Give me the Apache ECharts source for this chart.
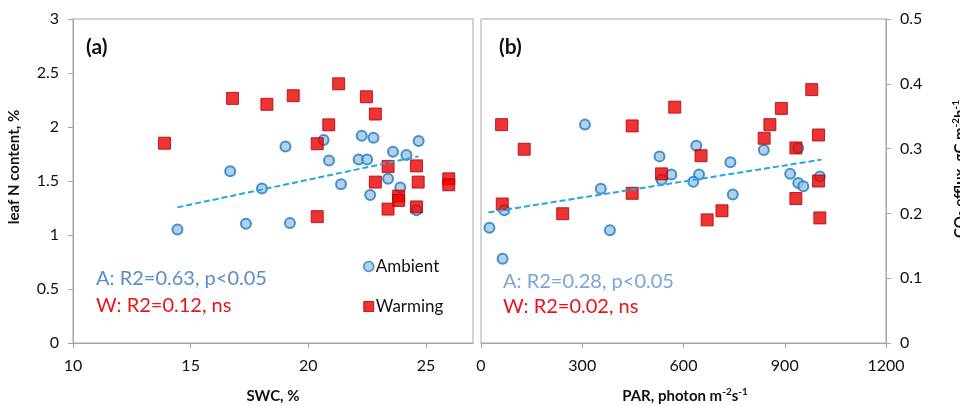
<!DOCTYPE html>
<html>
<head>
<meta charset="utf-8">
<script src="https://cdn.jsdelivr.net/npm/echarts@6/dist/echarts.min.js"></script>
<style>html,body{margin:0;padding:0;background:#fff}#c{width:960px;height:406px}</style>
</head>
<body>
<div id="c"></div>
<script>
// ---- Panel (a): leaf N content vs SWC ----
const swcAmbient   = [20.65,19.03,22.27,22.77,24.69,16.68,20.88,22.14,22.5,23.6,24.17,18.03,23.39,23.91,21.39,22.63,14.44,17.35,19.22,24.6];
const leafNAmbient = [1.88,1.82,1.92,1.90,1.87,1.59,1.69,1.70,1.70,1.77,1.74,1.43,1.52,1.44,1.47,1.37,1.05,1.105,1.11,1.23];
const swcWarming   = [13.89,16.78,18.24,19.36,21.29,22.47,22.85,20.87,20.38,23.39,24.60,22.85,24.67,25.97,25.97,23.84,23.84,23.39,24.6,20.38];
const leafNWarming = [1.85,2.265,2.21,2.29,2.40,2.28,2.12,2.02,1.845,1.635,1.64,1.49,1.49,1.52,1.465,1.36,1.32,1.24,1.26,1.17];
const trendA_swc   = [14.44,24.69];
const trendA_leafN = [1.256,1.728];
// ---- Panel (b): CO2 efflux vs PAR ----
const parAmbient   = [308,529,638,739,838,940,564,535,646,629,916,940,955,1004,355,746,25,69,64,382];
const co2Ambient   = [0.337,0.288,0.3045,0.279,0.298,0.301,0.260,0.252,0.260,0.249,0.261,0.247,0.242,0.257,0.238,0.229,0.178,0.205,0.130,0.174];
const parWarming   = [61,128,448,574,652,535,839,856,890,980,1000,933,1000,448,63,242,670,714,933,1004];
const co2Warming   = [0.337,0.299,0.335,0.364,0.289,0.261,0.316,0.337,0.362,0.391,0.321,0.301,0.250,0.231,0.2145,0.1995,0.190,0.204,0.223,0.193];
const trendB_par   = [22,1009];
const trendB_co2   = [0.2016,0.283];
// ---- axis ticks ----
const swcTicks = [10,15,20,25];
const leafNTicks = [0,0.5,1,1.5,2,2.5,3];
const parTicks = [0,300,600,900,1200];
const co2Ticks = [0,0.1,0.2,0.3,0.4,0.5];

const zip = (a,b) => a.map((v,i)=>[v,b[i]]);
const FONT = 'Lato';
const axisGray = '#a6a6a6';
const ambientStyle = {color:'#9cc6e4', borderColor:'#1f78c1', borderWidth:2};
const warmingStyle = {color:'#e80000', borderColor:'#b30000', borderWidth:1};
const trendStyle = {color:'#22a8e0', width:2, type:[6,3]};

const chart = echarts.init(document.getElementById('c'));
const labelStyle = {color:'#111', fontSize:16, fontFamily:FONT};

chart.setOption({
  animation:false,
  backgroundColor:'#fff',
  grid:[
    {left:73, right:487, top:19, bottom:63, show:true, borderColor:axisGray, borderWidth:1},
    {left:481, right:74, top:19, bottom:63, show:true, borderColor:axisGray, borderWidth:1}
  ],
  xAxis:[
    {gridIndex:0, type:'value', min:10, max:27, interval:5,
     axisLine:{lineStyle:{color:axisGray}}, axisTick:{show:true, inside:false, length:5, lineStyle:{color:axisGray}},
     splitLine:{show:false},
     axisLabel:Object.assign({margin:15, showMaxLabel:false, formatter:v=>swcTicks.includes(v)?String(v):''}, labelStyle)},
    {gridIndex:1, type:'value', min:0, max:1200, interval:300,
     axisLine:{lineStyle:{color:axisGray}}, axisTick:{show:true, length:5, lineStyle:{color:axisGray}},
     splitLine:{show:false},
     axisLabel:Object.assign({margin:15, formatter:v=>parTicks.includes(v)?String(v):''}, labelStyle)}
  ],
  yAxis:[
    {gridIndex:0, type:'value', min:0, max:3, interval:0.5,
     axisLine:{show:true, lineStyle:{color:axisGray}}, axisTick:{show:true, length:5, lineStyle:{color:axisGray}},
     splitLine:{show:false},
     axisLabel:Object.assign({margin:14, formatter:v=>leafNTicks.includes(v)?String(v):''}, labelStyle)},
    {gridIndex:1, type:'value', min:0, max:0.5, interval:0.1, position:'left',
     axisLine:{show:false}, axisTick:{show:false}, axisLabel:{show:false}, splitLine:{show:false}},
    {gridIndex:1, type:'value', min:0, max:0.5, interval:0.1, position:'right',
     axisLine:{show:true, lineStyle:{color:axisGray}}, axisTick:{show:true, length:5, lineStyle:{color:axisGray}},
     splitLine:{show:false},
     axisLabel:Object.assign({margin:14, formatter:v=>{const t=co2Ticks.find(x=>Math.abs(x-v)<1e-9);return t===undefined?'':String(t);}}, labelStyle)}
  ],
  legend:{
    orient:'vertical', left:358, top:253, itemGap:23, itemWidth:10, itemHeight:10,
    textStyle:{color:'#111', fontSize:17, fontFamily:FONT, padding:[0,0,0,-3]},
    data:[{name:'Ambient', icon:'circle', itemStyle:{borderWidth:1.5}},{name:'Warming', icon:'rect', itemStyle:{borderWidth:1}}]
  },
  series:[
    {name:'Ambient', type:'scatter', xAxisIndex:0, yAxisIndex:0, symbol:'circle', symbolSize:10, itemStyle:ambientStyle, data:zip(swcAmbient, leafNAmbient), z:2},
    {name:'Warming', type:'scatter', xAxisIndex:0, yAxisIndex:0, symbol:'rect', symbolSize:12, itemStyle:warmingStyle, data:zip(swcWarming, leafNWarming), z:3},
    {name:'trendA', type:'line', xAxisIndex:0, yAxisIndex:0, symbol:'none', lineStyle:trendStyle, data:zip(trendA_swc, trendA_leafN), z:4},
    {name:'Ambient', type:'scatter', xAxisIndex:1, yAxisIndex:2, symbol:'circle', symbolSize:10, itemStyle:ambientStyle, data:zip(parAmbient, co2Ambient), z:2},
    {name:'Warming', type:'scatter', xAxisIndex:1, yAxisIndex:2, symbol:'rect', symbolSize:12, itemStyle:warmingStyle, data:zip(parWarming, co2Warming), z:3},
    {name:'trendB', type:'line', xAxisIndex:1, yAxisIndex:2, symbol:'none', lineStyle:trendStyle, data:zip(trendB_par, trendB_co2), z:4}
  ],
  graphic:[
    {type:'text', x:86, y:47, style:{text:'(a)', fill:'#111', fontSize:21, fontWeight:'bold', fontFamily:FONT, align:'left', verticalAlign:'middle'}},
    {type:'text', x:499, y:47, style:{text:'(b)', fill:'#111', fontSize:21, fontWeight:'bold', fontFamily:FONT, align:'left', verticalAlign:'middle'}},
    {type:'text', x:96, y:279, style:{text:'A: R2=0.63, p<0.05', fill:'#5b8bc8', fontSize:20, fontFamily:FONT, align:'left', verticalAlign:'middle'}},
    {type:'text', x:96, y:306, style:{text:'W: R2=0.12, ns', fill:'#e8141a', fontSize:20, fontFamily:FONT, align:'left', verticalAlign:'middle'}},
    {type:'text', x:503, y:282, style:{text:'A: R2=0.28, p<0.05', fill:'#7aa5d8', fontSize:20, fontFamily:FONT, align:'left', verticalAlign:'middle'}},
    {type:'text', x:503, y:307, style:{text:'W: R2=0.02, ns', fill:'#e8141a', fontSize:20, fontFamily:FONT, align:'left', verticalAlign:'middle'}},
    {type:'text', x:273, y:396, style:{text:'SWC, %', fill:'#111', fontSize:15, fontWeight:'bold', fontFamily:FONT, align:'center', verticalAlign:'middle'}},
    {type:'text', x:685, y:396, style:{text:'{b|PAR, photon m}{s|-2}{b|s}{s|-1}', align:'center', verticalAlign:'middle',
      rich:{b:{fill:'#111', fontSize:15, fontWeight:'bold', fontFamily:FONT}, s:{fill:'#111', fontSize:10, fontWeight:'bold', fontFamily:FONT, verticalAlign:'top', padding:[0,0,8,0]}}}},
    {type:'text', x:14, y:167, rotation:Math.PI/2, style:{text:'leaf N content, %', fill:'#111', fontSize:15, fontWeight:'bold', fontFamily:FONT, align:'center', verticalAlign:'middle'}},
    {type:'text', x:960, y:169, rotation:Math.PI/2, style:{text:'{b|CO}{d|2}{b| efflux, gC m}{s|-2}{b|h}{s|-1}', align:'center', verticalAlign:'middle',
      rich:{b:{fill:'#111', fontSize:15, fontWeight:'bold', fontFamily:FONT}, s:{fill:'#111', fontSize:10, fontWeight:'bold', fontFamily:FONT, padding:[0,0,8,0]}, d:{fill:'#111', fontSize:10, fontWeight:'bold', fontFamily:FONT, padding:[6,0,0,0]}}}}
  ]
});
</script>
</body>
</html>
